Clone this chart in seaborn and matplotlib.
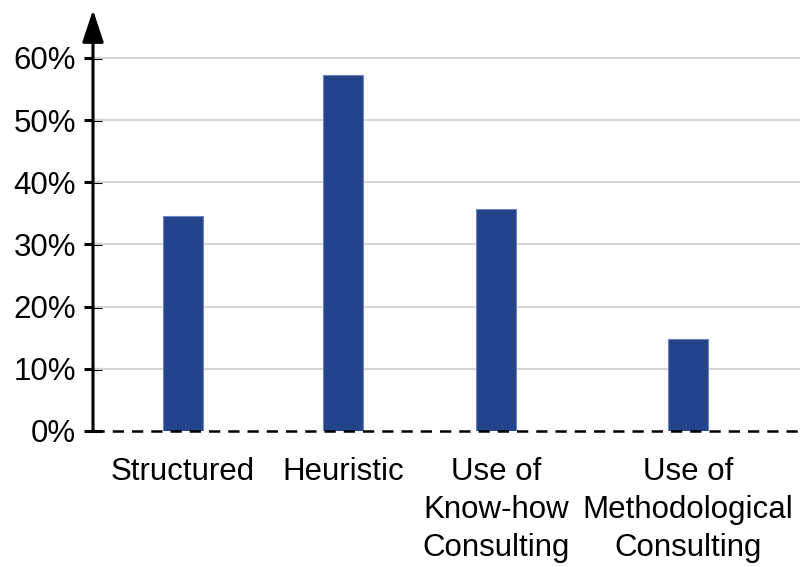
import matplotlib
matplotlib.use("Agg")
import matplotlib.pyplot as plt
import seaborn as sns
import pandas as pd

# Survey shares by approach (percent)
categories = [
    "Structured",
    "Heuristic",
    "Use of\nKnow-how\nConsulting",
    "Use of\nMethodological\nConsulting",
]
shares = [34.6, 57.2, 35.7, 14.8]
y_ticks = [0, 10, 20, 30, 40, 50, 60]
y_tick_labels = ["0%", "10%", "20%", "30%", "40%", "50%", "60%"]

# Layout: bar centres along the x axis (uneven spacing to leave room for labels)
x_pos = [0.566, 1.573, 2.536, 3.745]

sns.set_theme(style="white")
plt.rcParams["font.family"] = ["Liberation Sans", "DejaVu Sans"]
plt.rcParams["text.color"] = "black"
plt.rcParams["xtick.color"] = "black"
plt.rcParams["ytick.color"] = "black"

df = pd.DataFrame({"x": x_pos, "share": shares})

fig = plt.figure(figsize=(8.03, 5.67), dpi=100)
ax = fig.add_axes([93 / 803, 1 - 431 / 567, 707 / 803, 421 / 567])

sns.barplot(data=df, x="x", y="share", native_scale=True, width=0.262,
            color="#23438a", saturation=1, edgecolor="#6f84bd", linewidth=0.8,
            ax=ax, zorder=3)

ax.set_xlim(0, 4.45)
ax.set_ylim(0, 67.7)

# Gridlines
for t in y_ticks[1:]:
    ax.axhline(t, color="#d3d6dc", lw=1.4, zorder=1)

# Dashed baseline
ax.axhline(0, color="black", lw=1.8, ls=(0, (4.5, 3.2)), zorder=4, clip_on=False)

for s in ax.spines.values():
    s.set_visible(False)

# Y axis with arrow head
ax.annotate("", xy=(0, 1.0), xycoords="axes fraction", xytext=(0, 0),
            textcoords="axes fraction",
            arrowprops=dict(arrowstyle="-|>,head_length=1.65,head_width=0.55",
                            color="black", lw=2.2, shrinkA=0, shrinkB=0),
            zorder=5)

ax.set_yticks(y_ticks)
ax.set_yticklabels(y_tick_labels, fontsize=22.5, color="black")
ax.tick_params(axis="y", which="major", direction="inout", length=12.5,
               width=2.2, color="black", left=True, pad=6, labelcolor="black")

ax.set_xticks(x_pos)
ax.set_xticklabels(categories, fontsize=22.5, linespacing=1.33, color="black")
ax.tick_params(axis="x", length=0, pad=19, labelcolor="black")

ax.set_xlabel("")
ax.set_ylabel("")
ax.grid(False)

fig.savefig("out.png", dpi=100)
